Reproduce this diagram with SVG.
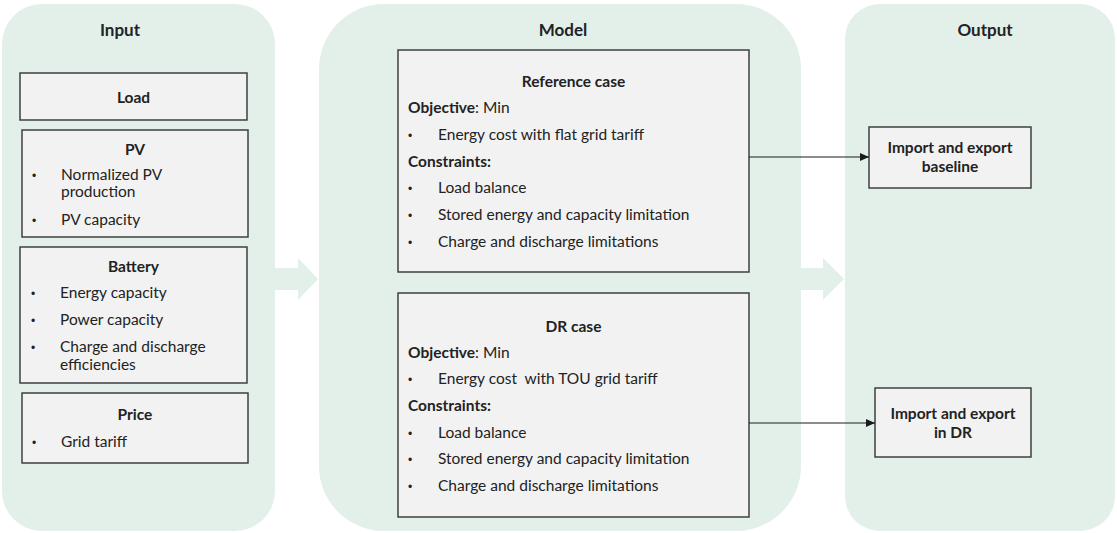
<svg xmlns="http://www.w3.org/2000/svg" width="1117" height="533" viewBox="0 0 1117 533">
<defs>
<style>
.panel{fill:#e3f0ea;}
.box{fill:#f2f2f2;stroke:#3f3f3f;stroke-width:1.5;}
text{font-family:Lato,"Open Sans","Liberation Sans",sans-serif;fill:#222222;}
.pt{font-size:17px;font-weight:bold;text-anchor:middle;}
.st{font-size:15.5px;font-weight:bold;text-anchor:middle;}
.b{font-size:15.5px;}
.bb{font-size:15.5px;font-weight:bold;}
.d{font-family:"Liberation Sans",sans-serif;font-size:12px;}
.conn{stroke:#1a1a1a;stroke-width:1;fill:none;}
</style>
<marker id="ah" markerWidth="10" markerHeight="8" refX="9" refY="4" orient="auto" markerUnits="userSpaceOnUse">
<path d="M0,0 L9,4 L0,8 Z" fill="#1a1a1a"/>
</marker>
</defs>

<g id="panels">
<rect id="input-panel" class="panel" x="2" y="4" width="273" height="527" rx="40"/>
<rect id="model-panel" class="panel" x="319" y="4" width="482" height="527" rx="65"/>
<rect id="output-panel" class="panel" x="845" y="4" width="270" height="527" rx="35"/>
<polygon class="panel" points="275,268 298,268 298,258 318,279 298,300 298,290 275,290"/>
<polygon class="panel" points="801,268 823,268 823,258 844,279 823,300 823,290 801,290"/>
<text class="pt" x="120" y="36">Input</text>
<text class="pt" x="563" y="36">Model</text>
<text class="pt" x="985" y="36">Output</text>
</g>

<g id="load">
<rect class="box" x="20" y="73" width="227" height="47"/>
<text class="st" x="133.5" y="103">Load</text>
</g>

<g id="pv">
<rect class="box" x="22" y="130" width="226" height="107"/>
<text class="st" x="135" y="155">PV</text>
<text class="d" x="32" y="180">•</text>
<text class="b" x="61" y="180">Normalized PV</text>
<text class="b" x="61" y="197">production</text>
<text class="d" x="32" y="225">•</text>
<text class="b" x="61" y="225">PV capacity</text>
</g>

<g id="battery">
<rect class="box" x="20" y="247" width="227" height="136"/>
<text class="st" x="133.5" y="272">Battery</text>
<text class="d" x="31" y="298">•</text>
<text class="b" x="60" y="298">Energy capacity</text>
<text class="d" x="31" y="325">•</text>
<text class="b" x="60" y="325">Power capacity</text>
<text class="d" x="31" y="352">•</text>
<text class="b" x="60" y="352">Charge and discharge</text>
<text class="b" x="60" y="370">efficiencies</text>
</g>

<g id="price">
<rect class="box" x="22" y="393" width="226" height="70"/>
<text class="st" x="135" y="420">Price</text>
<text class="d" x="32" y="447">•</text>
<text class="b" x="61" y="447">Grid tariff</text>
</g>

<g id="reference-case">
<rect class="box" x="398" y="50" width="351" height="222"/>
<text class="st" x="573.5" y="87">Reference case</text>
<text class="b" x="408" y="113"><tspan class="bb">Objective</tspan>: Min</text>
<text class="d" x="408" y="140">•</text>
<text class="b" x="438" y="140">Energy cost with flat grid tariff</text>
<text class="bb" x="408" y="167">Constraints:</text>
<text class="d" x="408" y="193">•</text>
<text class="b" x="438" y="193">Load balance</text>
<text class="d" x="408" y="220">•</text>
<text class="b" x="438" y="220">Stored energy and capacity limitation</text>
<text class="d" x="408" y="247">•</text>
<text class="b" x="438" y="247">Charge and discharge limitations</text>
</g>

<g id="dr-case">
<rect class="box" x="398" y="293" width="351" height="224"/>
<text class="st" x="573.5" y="332">DR case</text>
<text class="b" x="408" y="358"><tspan class="bb">Objective</tspan>: Min</text>
<text class="d" x="408" y="384">•</text>
<text class="b" x="438" y="384" xml:space="preserve">Energy cost  with TOU grid tariff</text>
<text class="bb" x="408" y="411">Constraints:</text>
<text class="d" x="408" y="438">•</text>
<text class="b" x="438" y="438">Load balance</text>
<text class="d" x="408" y="464">•</text>
<text class="b" x="438" y="464">Stored energy and capacity limitation</text>
<text class="d" x="408" y="491">•</text>
<text class="b" x="438" y="491">Charge and discharge limitations</text>
</g>

<g id="out-baseline">
<rect class="box" x="869" y="127" width="162" height="61"/>
<text class="st" x="950" y="153">Import and export</text>
<text class="st" x="950" y="172">baseline</text>
</g>

<g id="out-dr">
<rect class="box" x="875" y="388" width="156" height="69"/>
<text class="st" x="953" y="419">Import and export</text>
<text class="st" x="953" y="438">in DR</text>
</g>

<g id="connectors">
<line class="conn" x1="749" y1="157" x2="869" y2="157" marker-end="url(#ah)"/>
<line class="conn" x1="749" y1="423" x2="875" y2="423" marker-end="url(#ah)"/>
</g>
</svg>
